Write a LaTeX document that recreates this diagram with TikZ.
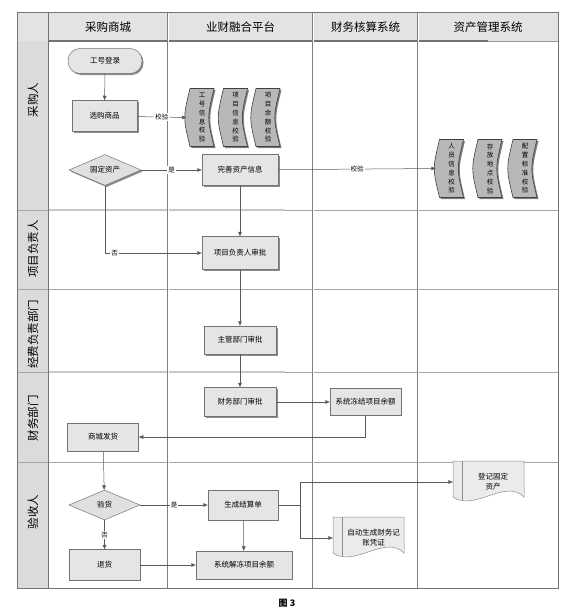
\documentclass[tikz,border=0pt]{standalone}
\usepackage{fontspec}
\setmainfont{Noto Sans CJK SC}
\usetikzlibrary{shapes.geometric,shapes.misc,arrows.meta,shadows}
\newcommand\bannerat[4]{%
  \begin{scope}[shift={(#2,#3)}]
    \fill[black!50] (-10.5,-27.5) -- (13.5,-27.5) .. controls (6.5,1.5) .. (13.5,30.5) -- (-10.5,30.5) .. controls (-17.5,1.5) .. (-10.5,-27.5) -- cycle;
    \draw[bnr] (-12,-29) -- (12,-29) .. controls (5,0) .. (12,29) -- (-12,29) .. controls (-19,0) .. (-12,-29) -- cycle;
    \node[bnrtext] (#1) at (0,0) {#4};
  \end{scope}}
\begin{document}
\begin{tikzpicture}[x=1pt,y=-1pt,
  line/.style={draw=black!65, line width=0.5pt},
  arr/.style={line, -{Triangle[length=4.5pt,width=3.6pt]}},
  proc/.style={draw=black!55, fill=black!10, line width=0.5pt, inner sep=1pt, font=\fontsize{7.5}{9}\selectfont},
  shad/.style={drop shadow={shadow xshift=1.5pt, shadow yshift=-1.6pt, fill=black!45, opacity=1}},
  dec/.style={diamond, aspect=2.3, inner sep=0pt, draw=black!55, fill=black!12, line width=0.5pt, font=\fontsize{7.5}{9}\selectfont},
  lbl/.style={fill=white, inner sep=1pt, font=\fontsize{6.5}{7}\selectfont},
  bnr/.style={draw=black!75, fill=black!28, line width=0.6pt},
  bnrtext/.style={inner sep=0pt, minimum width=31pt, minimum height=58pt, align=center, font=\fontsize{6.5}{8.8}\selectfont},
  docs/.style={draw=black!45, fill=black!8, line width=0.5pt},
  doctext/.style={inner sep=0pt, minimum width=62pt, minimum height=28pt, align=center, font=\fontsize{7.5}{10}\selectfont},
  lanehead/.style={font=\fontsize{11.5}{12}\selectfont},
  lanelabel/.style={rotate=90, font=\fontsize{11.5}{12}\selectfont},
  sep/.style={draw=black!35, line width=0.5pt},
  colsep/.style={draw=black!50, line width=0.5pt, double=white, double distance=0.7pt},
]
\useasboundingbox (0,0) rectangle (575,615);
% ---------- swimlane frame ----------
\fill[black!11] (17,12) rectangle (558,41);
\fill[black!14] (17,41) rectangle (48,588);
\foreach \yy in {210,289,372,462} \draw[sep] (17,\yy) -- (558,\yy);
\draw[black!22, line width=2pt] (48,210) -- (285,210);
\draw[black!22, line width=2pt] (48,372) -- (285,372);
\draw[black!40] (488,41) -- (558,41);
\draw[black!55, line width=2pt] (48,41) -- (488,41);
\draw[black!55, line width=0.8pt] (48,12) -- (48,588);
\foreach \xx in {168,313,418} \draw[colsep] (\xx,12) -- (\xx,588);
\draw[black!55, line width=0.6pt] (17,12) rectangle (558,588);
% headers
\node[lanehead] (h1) at (108,27) {采购商城};
\node[lanehead] (h2) at (240.5,27) {业财融合平台};
\node[lanehead] (h3) at (365.5,27) {财务核算系统};
\node[lanehead] (h4) at (488,27) {资产管理系统};
% lane labels
\node[lanelabel] (l1) at (33,100) {采购人};
\node[lanelabel] (l2) at (33,249) {项目负责人};
\node[lanelabel] (l3) at (33,334) {经费负责部门};
\node[lanelabel] (l4) at (33,418) {财务部门};
\node[lanelabel] (l5) at (33,512) {验收人};
% ---------- banners ----------
\bannerat{b1}{202}{117.5}{工\\号\\信\\息\\校\\验}
\bannerat{b2}{235.5}{117.5}{项\\目\\信\\息\\校\\验}
\bannerat{b3}{268}{117.5}{项\\目\\余\\额\\校\\验}
\bannerat{b4}{451.5}{168.5}{人\\员\\信\\息\\校\\验}
\bannerat{b5}{490}{168.5}{存\\放\\地\\点\\校\\验}
\bannerat{b6}{525}{168.5}{配\\置\\标\\准\\校\\验}
% ---------- documents ----------
\draw[docs] (453,461) -- (524,461) -- (524,497) .. controls (505,478) and (475,512) .. (453,497) -- cycle;
\draw[docs] (462,461) -- (462,500);
\node[doctext] (doc1) at (493,482) {登记固定\\资产};
\draw[docs] (333,517) -- (404,517) -- (404,553) .. controls (385,534) and (355,568) .. (333,553) -- cycle;
\draw[docs] (342,517) -- (342,556);
\node[doctext] (doc2) at (373.5,538) {自动生成财务记\\账凭证};
% ---------- process nodes ----------
\node[proc, shad, rounded corners=12pt, minimum width=74pt, minimum height=25pt] (login) at (105,61) {工号登录};
\node[proc, shad, minimum width=65pt, minimum height=31pt] (select) at (104.5,116) {选购商品};
\node[dec, shad, minimum width=72pt, minimum height=31pt] (fixed) at (105,170) {固定资产};
\node[proc, shad, minimum width=76pt, minimum height=31pt] (perfect) at (240,170) {完善资产信息};
\node[proc, shad, minimum width=76pt, minimum height=33pt] (pm) at (240,253) {项目负责人审批};
\node[proc, shad, minimum width=72pt, minimum height=28pt] (dept) at (240,340) {主管部门审批};
\node[proc, shad, minimum width=72pt, minimum height=29pt] (fin) at (240,402) {财务部门审批};
\node[proc, minimum width=71pt, minimum height=27pt] (freeze) at (365.5,402) {系统冻结项目余额};
\node[proc, minimum width=71pt, minimum height=28pt] (ship) at (103,437) {商城发货};
\node[dec, minimum width=71pt, minimum height=30pt] (check) at (104.5,505) {验货};
\node[proc, minimum width=70pt, minimum height=30pt] (settle) at (243,505) {生成结算单};
\node[proc, minimum width=71pt, minimum height=31pt] (reject) at (104.5,565) {退货};
\node[proc, minimum width=96pt, minimum height=28pt] (unfreeze) at (244,565) {系统解冻项目余额};
\coordinate (jn) at (300,505);
% ---------- connectors ----------
\draw[arr] (login) -- (select);
\draw[arr] (select) -- node[lbl] {校验} (b1.west);
\draw[arr] (fixed) -- node[lbl] {是} (perfect);
\draw[arr] (perfect) -- node[lbl] {校验} (b4.west);
\draw[arr] (perfect) -- (pm);
\draw[arr] (fixed.south) |- node[lbl, pos=0.55] {否} (pm.west);
\draw[arr] (pm) -- (dept);
\draw[arr] (dept) -- (fin);
\draw[arr] (fin) -- (freeze);
\draw[arr] (freeze.south) |- (ship.east);
\draw[arr] (ship) -- (check);
\draw[arr] (check) -- node[lbl] {是} (settle);
\draw[arr] (check) -- node[lbl] {否} (reject);
\draw[arr] (reject) -- (unfreeze);
\draw[arr] (settle) -- (unfreeze);
\draw[line] (settle.east) -- (jn);
\draw[arr] (jn) |- ([xshift=-9pt]doc1.west);
\draw[arr] (jn) |- ([xshift=-9.5pt]doc2.west);
% caption
\node[font=\fontsize{9}{10}\selectfont\bfseries] (cap) at (287,603) {图 3};
\end{tikzpicture}
\end{document}
